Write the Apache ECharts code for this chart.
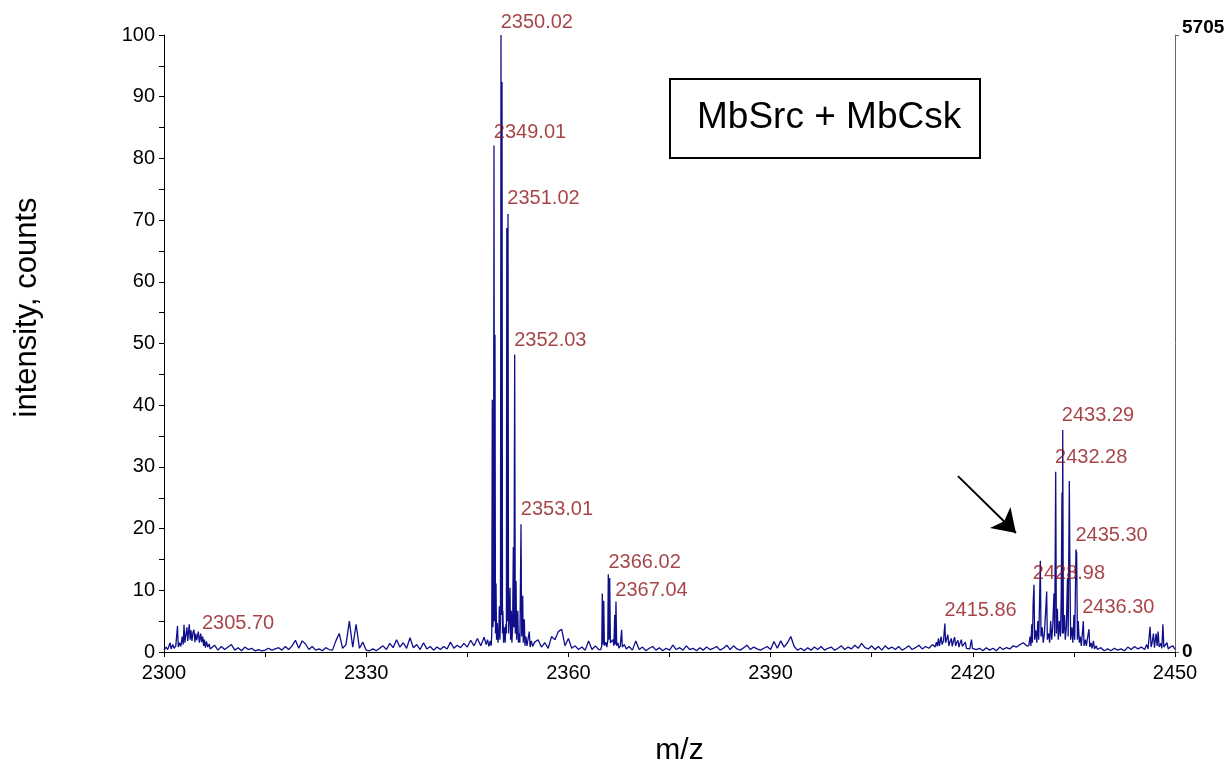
<!DOCTYPE html>
<html>
<head>
<meta charset="utf-8">
<title>MbSrc + MbCsk</title>
<script src="https://cdn.jsdelivr.net/npm/echarts@6/dist/echarts.min.js"></script>
<style>
  html, body { margin: 0; padding: 0; background: #fff; }
  #main { width: 1230px; height: 765px; }
</style>
</head>
<body>
<div id="main"></div>
<script>
// tick labels
var xLabels = [2300, 2330, 2360, 2390, 2420, 2450];
var yLabels = [0, 10, 20, 30, 40, 50, 60, 70, 80, 90, 100];
var rightLabels = [0, 5705];

// spectrum: clusters as [m/z, intensity] pairs,
// flat noise stretches as values every 0.5 m/z from a start value
var noiseStep = 0.5;

var cluster2300 = [[2300.0,0.3],[2300.3,0.8],[2300.55,0.4],[2300.9,1.5],[2301.05,0.5],[2301.3,1.2],[2301.5,0.6],[2301.75,1.0],
  [2302.0,4.2],[2302.12,0.8],[2302.3,1.5],[2302.5,0.9],[2302.7,2.5],[2302.85,1.2],[2302.97,4.4],[2303.1,1.5],[2303.25,2.8],
  [2303.4,4.0],[2303.52,1.8],[2303.62,3.0],[2303.75,4.5],[2303.88,2.0],[2304.0,3.5],[2304.15,1.8],[2304.3,3.2],[2304.45,3.6],
  [2304.58,1.6],[2304.72,3.0],[2304.85,1.9],[2304.98,2.6],[2305.1,3.3],[2305.25,1.5],[2305.45,3.0],[2305.58,1.6],[2305.74,2.5],
  [2305.88,1.0],[2306.0,2.0],[2306.15,0.7],[2306.3,1.7],[2306.5,0.8],[2306.7,1.3],[2306.85,0.5]];

var noise2307 = [0.6,1.1,0.3,0.9,0.4,0.8,1.2,0.3,0.7,0.2,0.8,0.4,0.6,0.2,0.4,0.2,0.3,0.6,0.3,0.5,
  0.7,0.3,0.9,0.4,1.0,1.9,0.6,1.8,1.3,0.4,0.9,0.3,0.5,0.2,0.7,0.4,0.3,1.8,3.0,0.6,
  1.2,5.0,0.8,4.5,0.6,1.6,0.3,0.2,0.5,0.2,0.6,1.0,0.4,1.4,0.7,2.0,0.8,1.5,0.6,2.3,
  0.7,1.2,0.4,1.5,0.5,0.9,0.3,0.8,0.4,0.9,0.5,1.6,0.6,1.1,0.7,1.4,0.8,1.9,1.0,2.2,
  1.0,2.4];

var cluster2350 = [[2347.8,1.2],[2348.0,2.0],[2348.2,0.9],[2348.4,1.8],[2348.55,1.0],[2348.63,3.0],[2348.71,40.9],[2348.8,4.0],
  [2348.88,6.0],[2348.96,82.1],[2349.04,5.0],[2349.11,51.4],[2349.18,3.0],[2349.26,11.1],[2349.34,2.0],[2349.45,4.7],
  [2349.55,1.5],[2349.67,3.0],[2349.75,7.4],[2349.84,2.0],[2349.92,5.0],[2350.0,100],[2350.08,6.0],[2350.15,92.4],
  [2350.22,3.0],[2350.28,6.7],[2350.38,1.5],[2350.5,4.0],[2350.62,1.5],[2350.72,4.5],[2350.8,3.0],[2350.86,68.7],
  [2350.95,5.0],[2351.04,71.0],[2351.12,3.0],[2351.2,5.0],[2351.34,10.4],[2351.42,2.0],[2351.53,6.7],[2351.62,1.5],
  [2351.72,4.0],[2351.83,17.0],[2351.92,4.0],[2352.03,48.2],[2352.12,3.0],[2352.23,11.5],[2352.32,2.0],[2352.49,6.7],
  [2352.58,1.5],[2352.7,3.0],[2352.8,1.5],[2352.97,20.7],[2353.06,2.5],[2353.14,4.0],[2353.22,9.1],[2353.3,1.5],
  [2353.46,5.3],[2353.55,1.0],[2353.7,2.5],[2353.85,1.0],[2354.0,2.0],[2354.2,3.3],[2354.32,0.8],[2354.5,1.8],[2354.7,0.9]];

var noise2355 = [1.6,2.0,0.8,1.5,0.6,2.5,2.0,3.3,3.7,1.0,2.2,0.6,1.0,0.4,0.8,0.3,1.8,0.4,1.0,0.4];

var cluster2366 = [[2364.8,0.4],[2364.95,1.0],[2365.03,9.5],[2365.13,1.2],[2365.24,8.3],[2365.34,1.0],[2365.55,1.6],[2365.7,0.8],
  [2365.84,1.8],[2365.92,12.6],[2366.02,2.0],[2366.13,12.0],[2366.23,1.5],[2366.45,1.2],[2366.6,2.0],[2366.75,1.0],
  [2366.87,6.0],[2366.96,1.2],[2367.06,8.2],[2367.16,1.0],[2367.35,1.5],[2367.5,0.6],[2367.7,1.0],[2367.9,3.6],
  [2368.0,0.8],[2368.3,1.2],[2368.6,0.5]];

var noise2369 = [0.9,0.3,1.8,0.4,0.8,0.2,0.6,0.9,0.3,0.7,0.2,0.6,0.3,1.1,0.4,0.7,0.3,1.0,0.4,0.6,
  0.2,0.7,0.3,0.8,0.4,0.6,0.9,0.3,0.6,1.1,0.4,1.0,0.5,0.3,0.7,1.1,0.4,0.8,0.5,0.3,
  0.6,0.9,0.4,1.7,0.6,1.8,0.8,1.5,2.5,0.9,0.3,0.6,0.2,0.7,0.3,0.8,0.4,0.9,0.3,0.6,
  0.8,0.3,0.6,1.0,0.4,0.8,0.5,1.1,0.6,1.4,0.7,0.5,1.0,0.4,0.9,0.3,1.0,0.5,0.8,0.4,
  0.9,0.3,0.6,1.0,0.4,0.7,1.1,0.5,0.9,0.6,1.2];

var cluster2415 = [[2414.4,0.8],[2414.6,1.6],[2414.75,0.9],[2414.9,2.2],[2415.05,1.0],[2415.3,2.5],[2415.45,1.2],[2415.65,1.8],
  [2415.86,4.6],[2415.96,1.5],[2416.1,2.0],[2416.3,2.8],[2416.45,1.0],[2416.6,1.6],[2416.8,2.2],[2416.95,0.9],
  [2417.1,1.7],[2417.3,2.4],[2417.45,1.0],[2417.6,1.5],[2417.8,1.9],[2417.95,0.8],[2418.1,1.4],[2418.3,2.0],
  [2418.45,0.9],[2418.65,1.2],[2418.9,1.6],[2419.05,0.6],[2419.3,0.9],[2419.55,0.5],[2419.8,2.0],[2419.95,0.6],
  [2420.2,0.8],[2420.5,0.4]];

var noise2421 = [0.6,0.2,0.7,0.3,0.6,0.2,0.8,0.4,0.7,0.5,1.0,0.8,1.2,1.5,1.0];

var cluster2433 = [[2428.3,1.0],[2428.5,2.5],[2428.62,1.0],[2428.75,4.5],[2428.85,1.5],[2428.95,7.9],[2429.08,10.9],[2429.18,2.0],
  [2429.35,3.5],[2429.5,1.5],[2429.65,5.0],[2429.78,2.0],[2429.9,8.0],[2430.02,14.8],[2430.12,2.5],[2430.3,4.0],
  [2430.45,1.5],[2430.62,3.0],[2430.8,6.5],[2430.96,9.8],[2431.06,2.0],[2431.25,3.0],[2431.4,1.5],[2431.55,5.0],
  [2431.7,2.0],[2431.85,4.0],[2432.05,9.5],[2432.15,2.5],[2432.3,29.2],[2432.4,3.0],[2432.55,7.0],[2432.68,2.0],
  [2432.85,5.0],[2433.0,2.5],[2433.12,9.0],[2433.23,25.8],[2433.28,3.0],[2433.34,36.0],[2433.44,3.0],[2433.6,6.0],
  [2433.72,2.0],[2433.88,4.0],[2434.05,12.0],[2434.15,2.5],[2434.32,27.7],[2434.42,12.0],[2434.52,2.0],[2434.7,4.0],
  [2434.85,1.5],[2435.0,6.0],[2435.12,2.0],[2435.31,16.6],[2435.41,16.0],[2435.52,2.0],[2435.65,5.0],[2435.8,1.5],
  [2435.95,2.5],[2436.1,1.0],[2436.25,3.0],[2436.4,5.0],[2436.5,1.0],[2436.7,2.0],[2436.85,1.0],[2437.05,2.5],
  [2437.24,3.7],[2437.35,0.8],[2437.55,1.5],[2437.7,0.6],[2437.9,1.8],[2438.05,0.5],[2438.3,1.0]];

var noise2438 = [0.4,0.7,0.2,0.5,0.2,0.6,0.3,0.5,0.2,0.8,0.4,0.9,0.5];

var tail2445 = [[2445.0,0.8],[2445.5,0.4],[2445.8,1.2],[2446.0,0.5],[2446.3,4.1],[2446.45,0.8],[2446.6,1.5],[2446.8,3.0],
  [2446.95,0.7],[2447.2,3.0],[2447.35,1.0],[2447.5,3.3],[2447.65,0.8],[2447.9,1.4],[2448.05,0.6],[2448.2,4.5],
  [2448.35,0.8],[2448.6,1.0],[2448.8,1.5],[2449.0,0.5],[2449.3,0.8],[2449.7,1.0],[2450.0,0.4]];

// annotated peaks
var labelMz = ['2305.70','2349.01','2350.02','2351.02','2352.03','2353.01','2366.02','2367.04',
  '2415.86','2428.98','2432.28','2433.29','2435.30','2436.30'];
var labelInt = [2.3, 81.9, 99.6, 71.2, 48.2, 20.7, 12.2, 7.7, 4.3, 10.4, 29.2, 36.0, 16.6, 4.8];

// arrow pointing at the phospho cluster
var arrowFrom = [2417.8, 28.5];
var arrowTo = [2426.4, 19.3];

function noisePairs(start, vals) {
  return vals.map(function (v, i) { return [start + i * noiseStep, v]; });
}

var spectrum = [].concat(
  cluster2300,
  noisePairs(2307.0, noise2307),
  cluster2350,
  noisePairs(2355.0, noise2355),
  cluster2366,
  noisePairs(2369.0, noise2369),
  cluster2415,
  noisePairs(2421.0, noise2421),
  cluster2433,
  noisePairs(2438.5, noise2438),
  tail2445
);

var labelPts = labelMz.map(function (m, i) { return [parseFloat(m), labelInt[i]]; });

var font = 'Liberation Sans, Arial, sans-serif';
var chart = echarts.init(document.getElementById('main'));

var option = {
  animation: false,
  backgroundColor: '#fff',
  grid: { left: 164, right: 55, top: 35, bottom: 113, outerBoundsMode: 'none', containLabel: false },
  xAxis: {
    type: 'value',
    min: 2300, max: 2450, interval: 15,
    name: 'm/z',
    nameLocation: 'middle',
    nameGap: 84,
    nameTextStyle: { fontSize: 30, fontFamily: font, color: '#000', padding: [0, 0, 0, 20] },
    axisLine: { show: true, lineStyle: { color: '#000', width: 1 } },
    axisTick: { show: true, inside: false, length: 5, lineStyle: { color: '#000' } },
    axisLabel: {
      margin: 11, fontSize: 20, fontFamily: font, color: '#000',
      formatter: function (v) { return xLabels.indexOf(v) >= 0 ? String(v) : ''; }
    },
    splitLine: { show: false }
  },
  yAxis: [{
    type: 'value',
    min: 0, max: 100, interval: 5,
    name: 'intensity, counts',
    nameLocation: 'middle',
    nameGap: 121,
    nameTextStyle: { fontSize: 31, fontFamily: font, color: '#000', padding: [0, 0, 0, 72] },
    axisLine: { show: true, lineStyle: { color: '#000', width: 1 } },
    axisTick: { show: true, length: 5, lineStyle: { color: '#000' } },
    axisLabel: {
      margin: 9, fontSize: 20, fontFamily: font, color: '#000',
      formatter: function (v) { return yLabels.indexOf(v) >= 0 ? String(v) : ''; }
    },
    splitLine: { show: false }
  }, {
    type: 'value',
    position: 'right',
    min: 0, max: 5705, interval: 5705,
    alignTicks: false,
    axisLine: { show: true, lineStyle: { color: '#666', width: 1 } },
    axisTick: { show: true, length: 4, lineStyle: { color: '#666' } },
    axisLabel: {
      margin: 7, fontSize: 19, fontWeight: 'bold', fontFamily: font, color: '#000',
      formatter: function (v) {
        if (v === rightLabels[1]) return '{top|' + v + '}';
        return rightLabels.indexOf(v) >= 0 ? String(v) : '';
      },
      rich: { top: { fontSize: 19, fontWeight: 'bold', fontFamily: font, color: '#000', padding: [0, 0, 14, 0] } }
    },
    splitLine: { show: false }
  }],
  graphic: [{
    type: 'rect',
    left: 669, top: 78,
    shape: { width: 310, height: 79 },
    style: { fill: '#fff', stroke: '#000', lineWidth: 2 },
    z: 10
  }, {
    type: 'text',
    x: 697, y: 118,
    style: { text: 'MbSrc + MbCsk', fontSize: 37, fontFamily: font, fill: '#000', verticalAlign: 'middle' },
    z: 11
  }],
  series: [{
    type: 'line',
    data: spectrum,
    symbol: 'none',
    lineStyle: { color: '#0f0f8a', width: 1.3 },
    z: 2,
    markLine: {
      silent: true,
      symbol: ['none', 'arrow'],
      symbolSize: 22,
      label: { show: false },
      lineStyle: { color: '#000', width: 2, type: 'solid' },
      data: [[{ coord: arrowFrom }, { coord: arrowTo }]]
    }
  }, {
    type: 'scatter',
    data: labelPts,
    symbolSize: 1,
    silent: true,
    itemStyle: { color: 'rgba(0,0,0,0)' },
    label: {
      show: true,
      position: [0, -14],
      align: 'left',
      verticalAlign: 'middle',
      color: '#8e1418',
      fontSize: 20,
      fontFamily: font,
      formatter: function (p) { return labelMz[p.dataIndex]; }
    },
    z: 3
  }]
};

chart.setOption(option);
</script>
</body>
</html>
